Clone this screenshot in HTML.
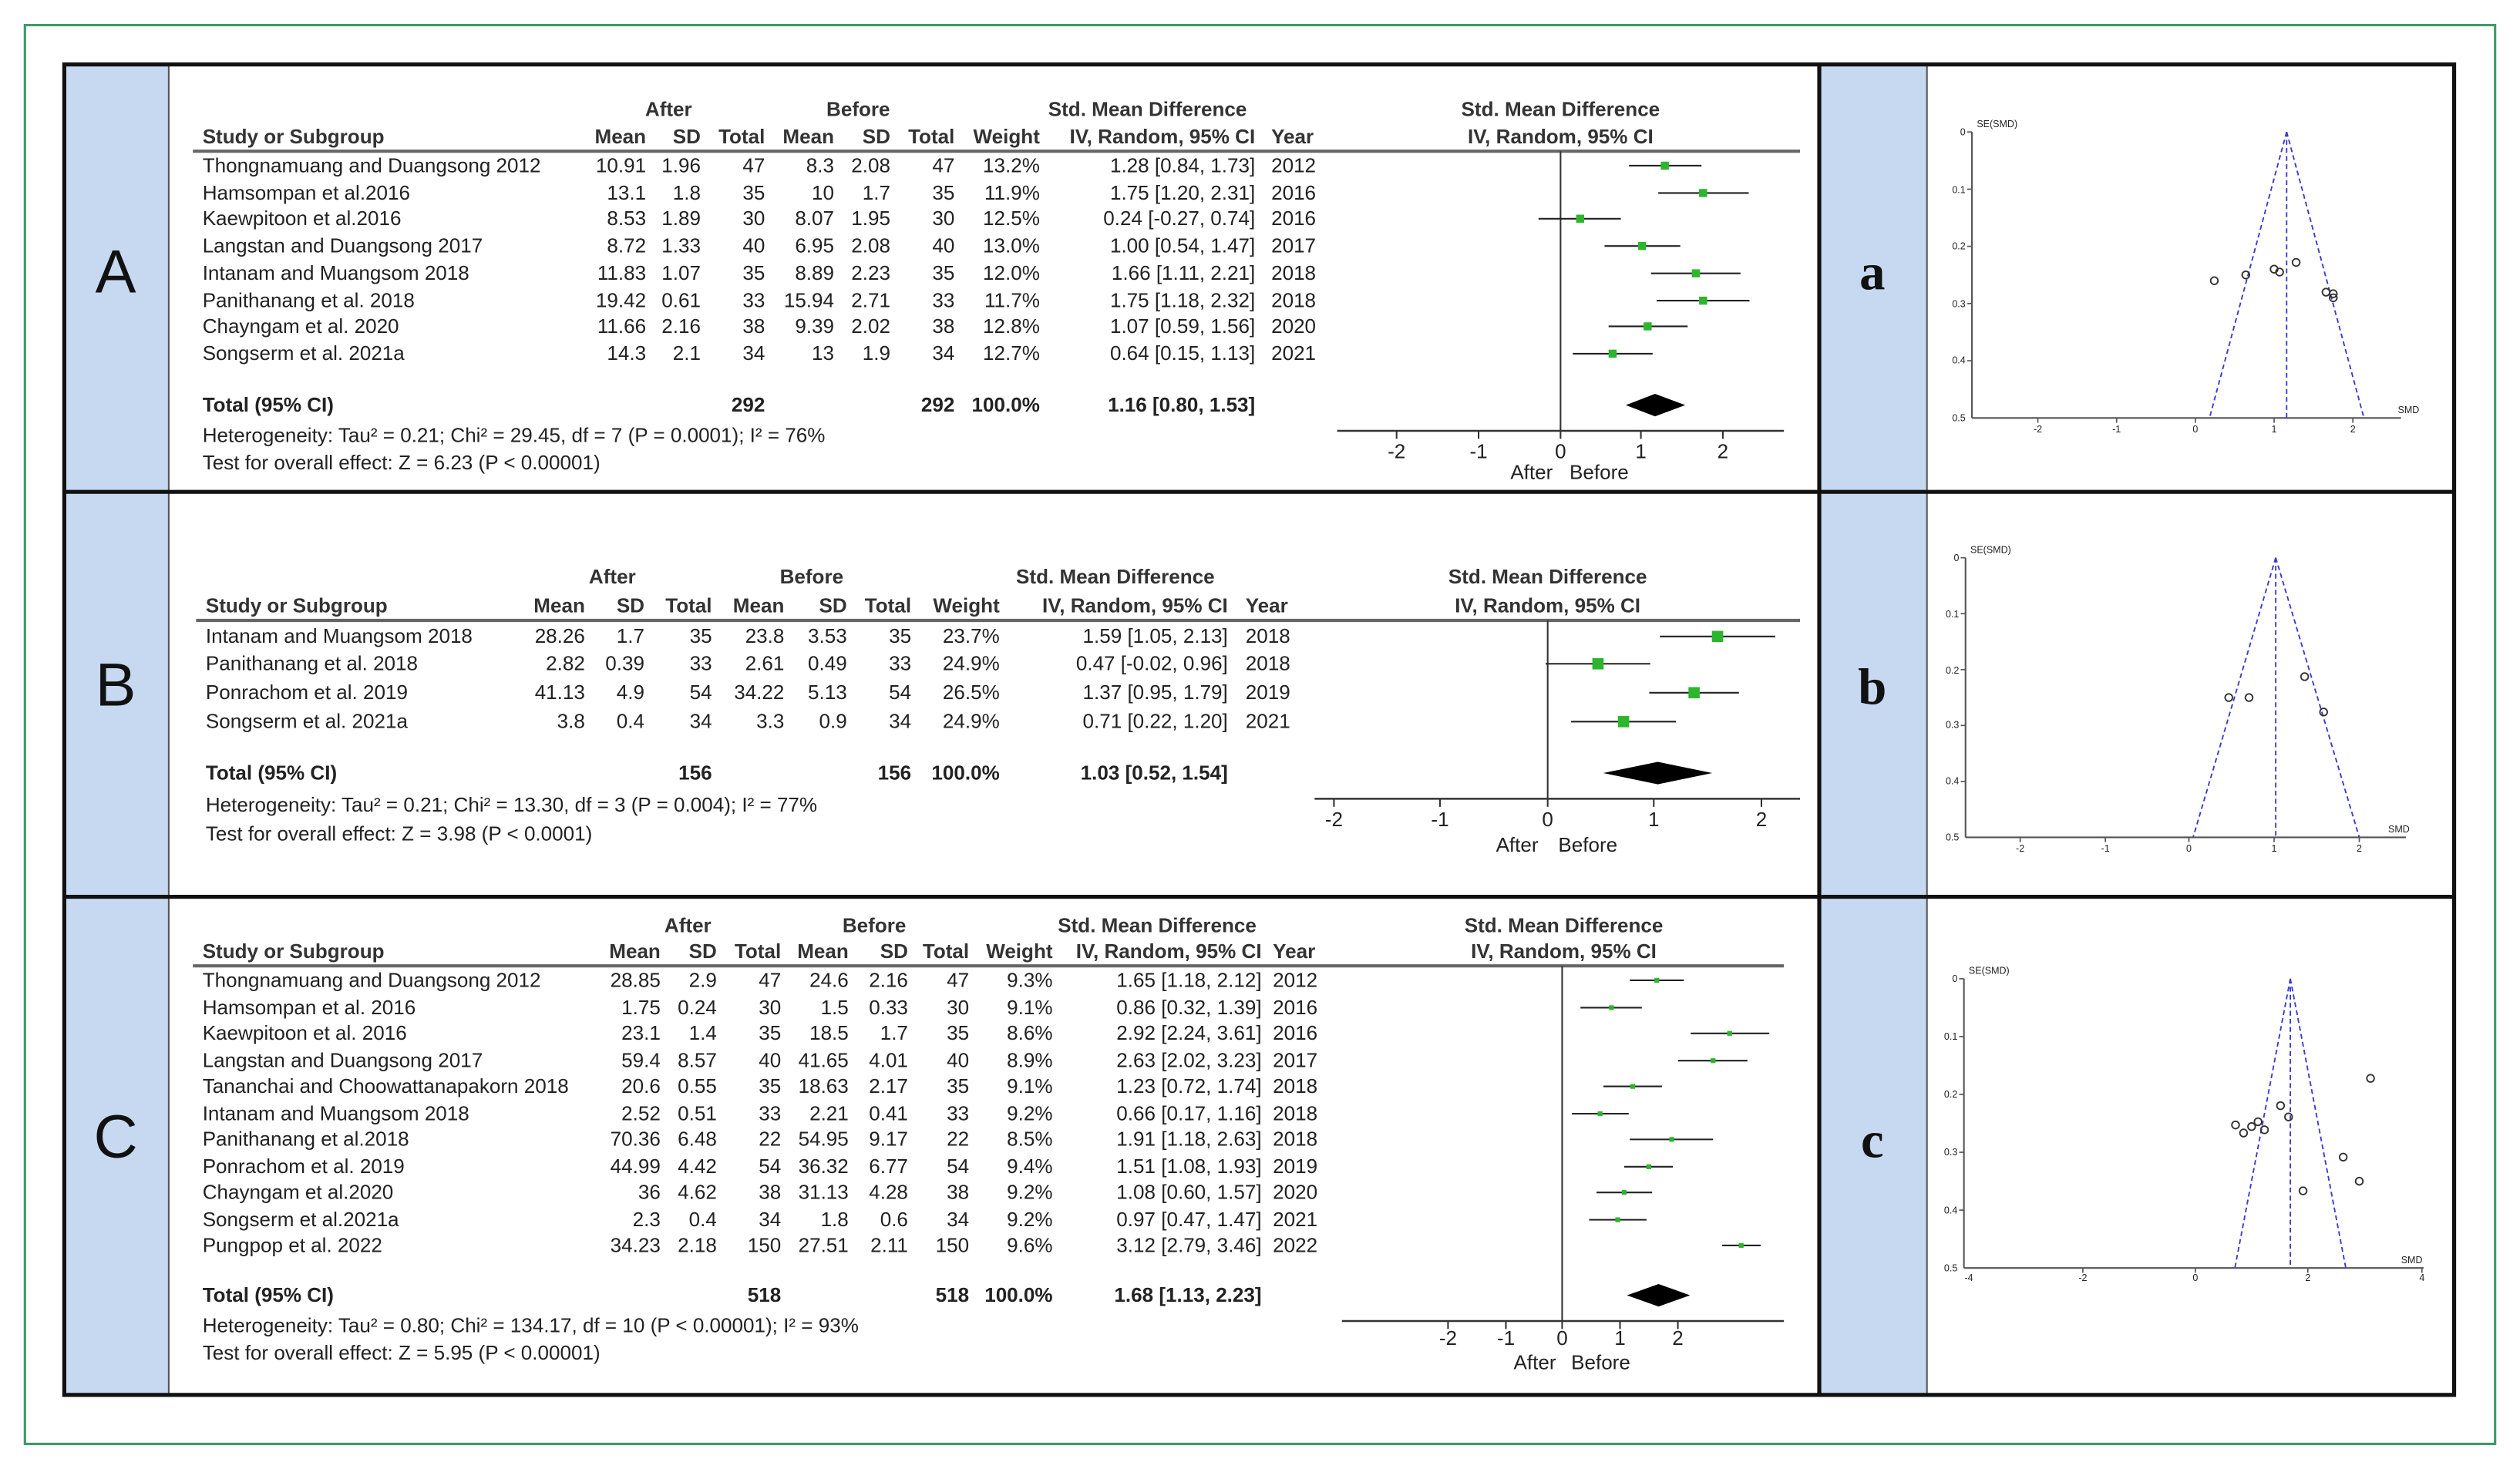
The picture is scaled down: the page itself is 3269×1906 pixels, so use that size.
<!DOCTYPE html>
<html><head><meta charset="utf-8"><style>
html,body{margin:0;padding:0;background:#fff}
svg{display:block}
text{font-family:"Liberation Sans",Arial,sans-serif;fill:#222}
.h{font-size:12.5px;font-weight:bold;fill:#333}
.t{font-size:12.5px}
.b{font-size:12.5px;font-weight:bold}
.r{text-anchor:end}
.m{text-anchor:middle}
.L{font-size:38px;text-anchor:middle;fill:#111}
.l{font-size:32px;font-weight:bold;font-family:"Liberation Serif",serif;text-anchor:middle;fill:#111}
.f{font-size:6px;fill:#333}
.ax{font-size:12.5px;text-anchor:middle}
</style></head><body>
<svg width="3269" height="1906" viewBox="0 0 1568 914" xmlns="http://www.w3.org/2000/svg">
<rect x="0" y="0" width="1568" height="914" fill="#fff"/>
<rect x="15.5" y="15.5" width="1537" height="883" fill="none" stroke="#3f9a6b" stroke-width="1.5"/>
<!-- blue columns -->
<rect x="40" y="40" width="65" height="828" fill="#c6d9f0"/>
<rect x="1132" y="40" width="67" height="828" fill="#c6d9f0"/>
<line x1="105" y1="40" x2="105" y2="868" stroke="#555" stroke-width="1"/>
<line x1="1199" y1="40" x2="1199" y2="868" stroke="#555" stroke-width="1"/>
<line x1="1132" y1="40" x2="1132" y2="868" stroke="#111" stroke-width="2.5"/>
<rect x="40" y="40" width="1487" height="828" fill="none" stroke="#111" stroke-width="2.5"/>
<line x1="40" y1="306" x2="1527" y2="306" stroke="#111" stroke-width="2.5"/>
<line x1="40" y1="558" x2="1527" y2="558" stroke="#111" stroke-width="2.5"/>
<text class="L" x="72" y="182">A</text>
<text class="L" x="72" y="439">B</text>
<text class="L" x="72" y="720">C</text>
<text class="l" x="1165" y="180">a</text>
<text class="l" x="1165" y="438">b</text>
<text class="l" x="1165" y="720">c</text>

<!-- ===== Panel A ===== -->
<g>
<text class="h m" x="416" y="72">After</text>
<text class="h m" x="534" y="72">Before</text>
<text class="h m" x="714" y="72">Std. Mean Difference</text>
<text class="h m" x="971" y="72">Std. Mean Difference</text>
<text class="h" x="126" y="89">Study or Subgroup</text>
<text class="h r" x="402" y="89">Mean</text><text class="h r" x="436" y="89">SD</text><text class="h r" x="476" y="89">Total</text>
<text class="h r" x="519" y="89">Mean</text><text class="h r" x="554" y="89">SD</text><text class="h r" x="594" y="89">Total</text>
<text class="h r" x="647" y="89">Weight</text><text class="h r" x="781" y="89">IV, Random, 95% CI</text><text class="h" x="791" y="89">Year</text>
<text class="h m" x="971" y="89">IV, Random, 95% CI</text>
<line x1="120" y1="94" x2="1120" y2="94" stroke="#666" stroke-width="2"/>
<g class="t">
<text x="126" y="107">Thongnamuang and Duangsong 2012</text><text class="r" x="402" y="107">10.91</text><text class="r" x="436" y="107">1.96</text><text class="r" x="476" y="107">47</text><text class="r" x="519" y="107">8.3</text><text class="r" x="554" y="107">2.08</text><text class="r" x="594" y="107">47</text><text class="r" x="647" y="107">13.2%</text><text class="r" x="781" y="107">1.28 [0.84, 1.73]</text><text x="791" y="107">2012</text>
<text x="126" y="124">Hamsompan et al.2016</text><text class="r" x="402" y="124">13.1</text><text class="r" x="436" y="124">1.8</text><text class="r" x="476" y="124">35</text><text class="r" x="519" y="124">10</text><text class="r" x="554" y="124">1.7</text><text class="r" x="594" y="124">35</text><text class="r" x="647" y="124">11.9%</text><text class="r" x="781" y="124">1.75 [1.20, 2.31]</text><text x="791" y="124">2016</text>
<text x="126" y="140">Kaewpitoon et al.2016</text><text class="r" x="402" y="140">8.53</text><text class="r" x="436" y="140">1.89</text><text class="r" x="476" y="140">30</text><text class="r" x="519" y="140">8.07</text><text class="r" x="554" y="140">1.95</text><text class="r" x="594" y="140">30</text><text class="r" x="647" y="140">12.5%</text><text class="r" x="781" y="140">0.24 [-0.27, 0.74]</text><text x="791" y="140">2016</text>
<text x="126" y="157">Langstan and Duangsong 2017</text><text class="r" x="402" y="157">8.72</text><text class="r" x="436" y="157">1.33</text><text class="r" x="476" y="157">40</text><text class="r" x="519" y="157">6.95</text><text class="r" x="554" y="157">2.08</text><text class="r" x="594" y="157">40</text><text class="r" x="647" y="157">13.0%</text><text class="r" x="781" y="157">1.00 [0.54, 1.47]</text><text x="791" y="157">2017</text>
<text x="126" y="174">Intanam and Muangsom 2018</text><text class="r" x="402" y="174">11.83</text><text class="r" x="436" y="174">1.07</text><text class="r" x="476" y="174">35</text><text class="r" x="519" y="174">8.89</text><text class="r" x="554" y="174">2.23</text><text class="r" x="594" y="174">35</text><text class="r" x="647" y="174">12.0%</text><text class="r" x="781" y="174">1.66 [1.11, 2.21]</text><text x="791" y="174">2018</text>
<text x="126" y="191">Panithanang et al. 2018</text><text class="r" x="402" y="191">19.42</text><text class="r" x="436" y="191">0.61</text><text class="r" x="476" y="191">33</text><text class="r" x="519" y="191">15.94</text><text class="r" x="554" y="191">2.71</text><text class="r" x="594" y="191">33</text><text class="r" x="647" y="191">11.7%</text><text class="r" x="781" y="191">1.75 [1.18, 2.32]</text><text x="791" y="191">2018</text>
<text x="126" y="207">Chayngam et al. 2020</text><text class="r" x="402" y="207">11.66</text><text class="r" x="436" y="207">2.16</text><text class="r" x="476" y="207">38</text><text class="r" x="519" y="207">9.39</text><text class="r" x="554" y="207">2.02</text><text class="r" x="594" y="207">38</text><text class="r" x="647" y="207">12.8%</text><text class="r" x="781" y="207">1.07 [0.59, 1.56]</text><text x="791" y="207">2020</text>
<text x="126" y="224">Songserm et al. 2021a</text><text class="r" x="402" y="224">14.3</text><text class="r" x="436" y="224">2.1</text><text class="r" x="476" y="224">34</text><text class="r" x="519" y="224">13</text><text class="r" x="554" y="224">1.9</text><text class="r" x="594" y="224">34</text><text class="r" x="647" y="224">12.7%</text><text class="r" x="781" y="224">0.64 [0.15, 1.13]</text><text x="791" y="224">2021</text>
<text x="126" y="275">Heterogeneity: Tau² = 0.21; Chi² = 29.45, df = 7 (P = 0.0001); I² = 76%</text>
<text x="126" y="292">Test for overall effect: Z = 6.23 (P &lt; 0.00001)</text>
</g>
<g class="b"><text x="126" y="256">Total (95% CI)</text><text class="r" x="476" y="256">292</text><text class="r" x="594" y="256">292</text><text class="r" x="647" y="256">100.0%</text><text class="r" x="781" y="256">1.16 [0.80, 1.53]</text></g>
<line x1="971" y1="94" x2="971" y2="268" stroke="#333" stroke-width="1"/>
<line x1="832" y1="268" x2="1110" y2="268" stroke="#333" stroke-width="1.2"/>
<g stroke="#333" stroke-width="1"><line x1="869" y1="268" x2="869" y2="273"/><line x1="920" y1="268" x2="920" y2="273"/><line x1="971" y1="268" x2="971" y2="273"/><line x1="1021" y1="268" x2="1021" y2="273"/><line x1="1072" y1="268" x2="1072" y2="273"/></g>
<text class="ax" x="869" y="285">-2</text><text class="ax" x="920" y="285">-1</text><text class="ax" x="971" y="285">0</text><text class="ax" x="1021" y="285">1</text><text class="ax" x="1072" y="285">2</text>
<text class="ax" x="953" y="298">After</text><text class="ax" x="995" y="298">Before</text>
<g stroke="#222" stroke-width="1">
<line x1="1013.6" y1="103" x2="1058.7" y2="103"/><line x1="1031.8" y1="120" x2="1088.1" y2="120"/><line x1="957.3" y1="136" x2="1008.5" y2="136"/><line x1="998.4" y1="153" x2="1045.5" y2="153"/><line x1="1027.3" y1="170" x2="1083" y2="170"/><line x1="1030.8" y1="187" x2="1088.6" y2="187"/><line x1="1000.9" y1="203" x2="1050.1" y2="203"/><line x1="978.6" y1="220" x2="1028.3" y2="220"/>
</g>
<g fill="#2db52d">
<rect x="1033.4" y="100.5" width="5" height="5"/><rect x="1057.2" y="117.5" width="5" height="5"/><rect x="980.7" y="133.5" width="5" height="5"/><rect x="1019.2" y="150.5" width="5" height="5"/><rect x="1052.7" y="167.5" width="5" height="5"/><rect x="1057.2" y="184.5" width="5" height="5"/><rect x="1022.7" y="200.5" width="5" height="5"/><rect x="1000.9" y="217.5" width="5" height="5"/>
</g>
<polygon points="1011.6,252 1029.8,245 1048.6,252 1029.8,259" fill="#000"/>
</g>

<!-- ===== Panel B ===== -->
<g>
<text class="h m" x="381" y="363">After</text>
<text class="h m" x="505" y="363">Before</text>
<text class="h m" x="694" y="363">Std. Mean Difference</text>
<text class="h m" x="963" y="363">Std. Mean Difference</text>
<text class="h" x="128" y="381">Study or Subgroup</text>
<text class="h r" x="364" y="381">Mean</text><text class="h r" x="401" y="381">SD</text><text class="h r" x="443" y="381">Total</text>
<text class="h r" x="488" y="381">Mean</text><text class="h r" x="527" y="381">SD</text><text class="h r" x="567" y="381">Total</text>
<text class="h r" x="622" y="381">Weight</text><text class="h r" x="764" y="381">IV, Random, 95% CI</text><text class="h" x="775" y="381">Year</text>
<text class="h m" x="963" y="381">IV, Random, 95% CI</text>
<line x1="122" y1="386" x2="1120" y2="386" stroke="#666" stroke-width="2"/>
<g class="t">
<text x="128" y="400">Intanam and Muangsom 2018</text><text class="r" x="364" y="400">28.26</text><text class="r" x="401" y="400">1.7</text><text class="r" x="443" y="400">35</text><text class="r" x="488" y="400">23.8</text><text class="r" x="527" y="400">3.53</text><text class="r" x="567" y="400">35</text><text class="r" x="622" y="400">23.7%</text><text class="r" x="764" y="400">1.59 [1.05, 2.13]</text><text x="775" y="400">2018</text>
<text x="128" y="417">Panithanang et al. 2018</text><text class="r" x="364" y="417">2.82</text><text class="r" x="401" y="417">0.39</text><text class="r" x="443" y="417">33</text><text class="r" x="488" y="417">2.61</text><text class="r" x="527" y="417">0.49</text><text class="r" x="567" y="417">33</text><text class="r" x="622" y="417">24.9%</text><text class="r" x="764" y="417">0.47 [-0.02, 0.96]</text><text x="775" y="417">2018</text>
<text x="128" y="435">Ponrachom et al. 2019</text><text class="r" x="364" y="435">41.13</text><text class="r" x="401" y="435">4.9</text><text class="r" x="443" y="435">54</text><text class="r" x="488" y="435">34.22</text><text class="r" x="527" y="435">5.13</text><text class="r" x="567" y="435">54</text><text class="r" x="622" y="435">26.5%</text><text class="r" x="764" y="435">1.37 [0.95, 1.79]</text><text x="775" y="435">2019</text>
<text x="128" y="453">Songserm et al. 2021a</text><text class="r" x="364" y="453">3.8</text><text class="r" x="401" y="453">0.4</text><text class="r" x="443" y="453">34</text><text class="r" x="488" y="453">3.3</text><text class="r" x="527" y="453">0.9</text><text class="r" x="567" y="453">34</text><text class="r" x="622" y="453">24.9%</text><text class="r" x="764" y="453">0.71 [0.22, 1.20]</text><text x="775" y="453">2021</text>
<text x="128" y="505">Heterogeneity: Tau² = 0.21; Chi² = 13.30, df = 3 (P = 0.004); I² = 77%</text>
<text x="128" y="523">Test for overall effect: Z = 3.98 (P &lt; 0.0001)</text>
</g>
<g class="b"><text x="128" y="485">Total (95% CI)</text><text class="r" x="443" y="485">156</text><text class="r" x="567" y="485">156</text><text class="r" x="622" y="485">100.0%</text><text class="r" x="764" y="485">1.03 [0.52, 1.54]</text></g>
<line x1="963" y1="386" x2="963" y2="497" stroke="#333" stroke-width="1"/>
<line x1="818" y1="497" x2="1120" y2="497" stroke="#333" stroke-width="1.2"/>
<g stroke="#333" stroke-width="1"><line x1="830" y1="497" x2="830" y2="502"/><line x1="896" y1="497" x2="896" y2="502"/><line x1="963" y1="497" x2="963" y2="502"/><line x1="1029" y1="497" x2="1029" y2="502"/><line x1="1096" y1="497" x2="1096" y2="502"/></g>
<text class="ax" x="830" y="514">-2</text><text class="ax" x="896" y="514">-1</text><text class="ax" x="963" y="514">0</text><text class="ax" x="1029" y="514">1</text><text class="ax" x="1096" y="514">2</text>
<text class="ax" x="944" y="530">After</text><text class="ax" x="988" y="530">Before</text>
<g stroke="#222" stroke-width="1">
<line x1="1032.8" y1="396" x2="1104.6" y2="396"/><line x1="961.7" y1="413" x2="1026.8" y2="413"/><line x1="1026.2" y1="431" x2="1082" y2="431"/><line x1="977.6" y1="449" x2="1042.8" y2="449"/>
</g>
<g fill="#2db52d">
<rect x="1065.2" y="392.5" width="7" height="7"/><rect x="990.8" y="409.5" width="7" height="7"/><rect x="1050.6" y="427.5" width="7" height="7"/><rect x="1006.7" y="445.5" width="7" height="7"/>
</g>
<polygon points="997.6,481 1031.5,474 1065.4,481 1031.5,488" fill="#000"/>
</g>

<!-- ===== Panel C ===== -->
<g>
<text class="h m" x="428" y="580">After</text>
<text class="h m" x="544" y="580">Before</text>
<text class="h m" x="720" y="580">Std. Mean Difference</text>
<text class="h m" x="973" y="580">Std. Mean Difference</text>
<text class="h" x="126" y="596">Study or Subgroup</text>
<text class="h r" x="411" y="596">Mean</text><text class="h r" x="446" y="596">SD</text><text class="h r" x="486" y="596">Total</text>
<text class="h r" x="528" y="596">Mean</text><text class="h r" x="565" y="596">SD</text><text class="h r" x="603" y="596">Total</text>
<text class="h r" x="655" y="596">Weight</text><text class="h r" x="785" y="596">IV, Random, 95% CI</text><text class="h" x="792" y="596">Year</text>
<text class="h m" x="973" y="596">IV, Random, 95% CI</text>
<line x1="120" y1="601" x2="1110" y2="601" stroke="#666" stroke-width="2"/>
<g class="t">
<text x="126" y="614">Thongnamuang and Duangsong 2012</text><text class="r" x="411" y="614">28.85</text><text class="r" x="446" y="614">2.9</text><text class="r" x="486" y="614">47</text><text class="r" x="528" y="614">24.6</text><text class="r" x="565" y="614">2.16</text><text class="r" x="603" y="614">47</text><text class="r" x="655" y="614">9.3%</text><text class="r" x="785" y="614">1.65 [1.18, 2.12]</text><text x="792" y="614">2012</text>
<text x="126" y="631">Hamsompan et al. 2016</text><text class="r" x="411" y="631">1.75</text><text class="r" x="446" y="631">0.24</text><text class="r" x="486" y="631">30</text><text class="r" x="528" y="631">1.5</text><text class="r" x="565" y="631">0.33</text><text class="r" x="603" y="631">30</text><text class="r" x="655" y="631">9.1%</text><text class="r" x="785" y="631">0.86 [0.32, 1.39]</text><text x="792" y="631">2016</text>
<text x="126" y="647">Kaewpitoon et al. 2016</text><text class="r" x="411" y="647">23.1</text><text class="r" x="446" y="647">1.4</text><text class="r" x="486" y="647">35</text><text class="r" x="528" y="647">18.5</text><text class="r" x="565" y="647">1.7</text><text class="r" x="603" y="647">35</text><text class="r" x="655" y="647">8.6%</text><text class="r" x="785" y="647">2.92 [2.24, 3.61]</text><text x="792" y="647">2016</text>
<text x="126" y="664">Langstan and Duangsong 2017</text><text class="r" x="411" y="664">59.4</text><text class="r" x="446" y="664">8.57</text><text class="r" x="486" y="664">40</text><text class="r" x="528" y="664">41.65</text><text class="r" x="565" y="664">4.01</text><text class="r" x="603" y="664">40</text><text class="r" x="655" y="664">8.9%</text><text class="r" x="785" y="664">2.63 [2.02, 3.23]</text><text x="792" y="664">2017</text>
<text x="126" y="680">Tananchai and Choowattanapakorn 2018</text><text class="r" x="411" y="680">20.6</text><text class="r" x="446" y="680">0.55</text><text class="r" x="486" y="680">35</text><text class="r" x="528" y="680">18.63</text><text class="r" x="565" y="680">2.17</text><text class="r" x="603" y="680">35</text><text class="r" x="655" y="680">9.1%</text><text class="r" x="785" y="680">1.23 [0.72, 1.74]</text><text x="792" y="680">2018</text>
<text x="126" y="697">Intanam and Muangsom 2018</text><text class="r" x="411" y="697">2.52</text><text class="r" x="446" y="697">0.51</text><text class="r" x="486" y="697">33</text><text class="r" x="528" y="697">2.21</text><text class="r" x="565" y="697">0.41</text><text class="r" x="603" y="697">33</text><text class="r" x="655" y="697">9.2%</text><text class="r" x="785" y="697">0.66 [0.17, 1.16]</text><text x="792" y="697">2018</text>
<text x="126" y="713">Panithanang et al.2018</text><text class="r" x="411" y="713">70.36</text><text class="r" x="446" y="713">6.48</text><text class="r" x="486" y="713">22</text><text class="r" x="528" y="713">54.95</text><text class="r" x="565" y="713">9.17</text><text class="r" x="603" y="713">22</text><text class="r" x="655" y="713">8.5%</text><text class="r" x="785" y="713">1.91 [1.18, 2.63]</text><text x="792" y="713">2018</text>
<text x="126" y="730">Ponrachom et al. 2019</text><text class="r" x="411" y="730">44.99</text><text class="r" x="446" y="730">4.42</text><text class="r" x="486" y="730">54</text><text class="r" x="528" y="730">36.32</text><text class="r" x="565" y="730">6.77</text><text class="r" x="603" y="730">54</text><text class="r" x="655" y="730">9.4%</text><text class="r" x="785" y="730">1.51 [1.08, 1.93]</text><text x="792" y="730">2019</text>
<text x="126" y="746">Chayngam et al.2020</text><text class="r" x="411" y="746">36</text><text class="r" x="446" y="746">4.62</text><text class="r" x="486" y="746">38</text><text class="r" x="528" y="746">31.13</text><text class="r" x="565" y="746">4.28</text><text class="r" x="603" y="746">38</text><text class="r" x="655" y="746">9.2%</text><text class="r" x="785" y="746">1.08 [0.60, 1.57]</text><text x="792" y="746">2020</text>
<text x="126" y="763">Songserm et al.2021a</text><text class="r" x="411" y="763">2.3</text><text class="r" x="446" y="763">0.4</text><text class="r" x="486" y="763">34</text><text class="r" x="528" y="763">1.8</text><text class="r" x="565" y="763">0.6</text><text class="r" x="603" y="763">34</text><text class="r" x="655" y="763">9.2%</text><text class="r" x="785" y="763">0.97 [0.47, 1.47]</text><text x="792" y="763">2021</text>
<text x="126" y="779">Pungpop et al. 2022</text><text class="r" x="411" y="779">34.23</text><text class="r" x="446" y="779">2.18</text><text class="r" x="486" y="779">150</text><text class="r" x="528" y="779">27.51</text><text class="r" x="565" y="779">2.11</text><text class="r" x="603" y="779">150</text><text class="r" x="655" y="779">9.6%</text><text class="r" x="785" y="779">3.12 [2.79, 3.46]</text><text x="792" y="779">2022</text>
<text x="126" y="829">Heterogeneity: Tau² = 0.80; Chi² = 134.17, df = 10 (P &lt; 0.00001); I² = 93%</text>
<text x="126" y="846">Test for overall effect: Z = 5.95 (P &lt; 0.00001)</text>
</g>
<g class="b"><text x="126" y="810">Total (95% CI)</text><text class="r" x="486" y="810">518</text><text class="r" x="603" y="810">518</text><text class="r" x="655" y="810">100.0%</text><text class="r" x="785" y="810">1.68 [1.13, 2.23]</text></g>
<line x1="972" y1="601" x2="972" y2="822" stroke="#333" stroke-width="1"/>
<line x1="835" y1="822" x2="1110" y2="822" stroke="#333" stroke-width="1.2"/>
<g stroke="#333" stroke-width="1"><line x1="901" y1="822" x2="901" y2="827"/><line x1="937" y1="822" x2="937" y2="827"/><line x1="972" y1="822" x2="972" y2="827"/><line x1="1008" y1="822" x2="1008" y2="827"/><line x1="1044" y1="822" x2="1044" y2="827"/></g>
<text class="ax" x="901" y="837">-2</text><text class="ax" x="937" y="837">-1</text><text class="ax" x="972" y="837">0</text><text class="ax" x="1008" y="837">1</text><text class="ax" x="1044" y="837">2</text>
<text class="ax" x="955" y="852">After</text><text class="ax" x="996" y="852">Before</text>
<g stroke="#222" stroke-width="1">
<line x1="1014.1" y1="610" x2="1047.7" y2="610"/><line x1="983.4" y1="627" x2="1021.6" y2="627"/><line x1="1052" y1="643" x2="1100.9" y2="643"/><line x1="1044.1" y1="660" x2="1087.3" y2="660"/><line x1="997.7" y1="676" x2="1034.1" y2="676"/><line x1="978.1" y1="693" x2="1013.4" y2="693"/><line x1="1014.1" y1="709" x2="1065.9" y2="709"/><line x1="1010.6" y1="726" x2="1040.9" y2="726"/><line x1="993.4" y1="742" x2="1028" y2="742"/><line x1="988.8" y1="759" x2="1024.5" y2="759"/><line x1="1071.6" y1="775" x2="1095.5" y2="775"/>
</g>
<g fill="#2db52d">
<rect x="1029.4" y="608.5" width="3" height="3"/><rect x="1001.2" y="625.5" width="3" height="3"/><rect x="1074.7" y="641.5" width="3" height="3"/><rect x="1064.4" y="658.5" width="3" height="3"/><rect x="1014.4" y="674.5" width="3" height="3"/><rect x="994.1" y="691.5" width="3" height="3"/><rect x="1038.7" y="707.5" width="3" height="3"/><rect x="1024.4" y="724.5" width="3" height="3"/><rect x="1009.1" y="740.5" width="3" height="3"/><rect x="1005.1" y="757.5" width="3" height="3"/><rect x="1081.9" y="773.5" width="3" height="3"/>
</g>
<polygon points="1012.3,806 1032,799 1051.6,806 1032,813" fill="#000"/>
</g>

<!-- ===== Funnel a ===== -->
<g>
<line x1="1227" y1="82" x2="1227" y2="260" stroke="#555" stroke-width="1"/>
<line x1="1227" y1="260" x2="1494" y2="260" stroke="#555" stroke-width="1"/>
<g stroke="#555" stroke-width="0.8"><line x1="1224" y1="82" x2="1227" y2="82"/><line x1="1224" y1="117.6" x2="1227" y2="117.6"/><line x1="1224" y1="153.2" x2="1227" y2="153.2"/><line x1="1224" y1="188.8" x2="1227" y2="188.8"/><line x1="1224" y1="224.4" x2="1227" y2="224.4"/>
<line x1="1268" y1="260" x2="1268" y2="263"/><line x1="1317" y1="260" x2="1317" y2="263"/><line x1="1366" y1="260" x2="1366" y2="263"/><line x1="1415" y1="260" x2="1415" y2="263"/><line x1="1464" y1="260" x2="1464" y2="263"/></g>
<g class="f"><text class="r" x="1223" y="84">0</text><text class="r" x="1223" y="120">0.1</text><text class="r" x="1223" y="155">0.2</text><text class="r" x="1223" y="191">0.3</text><text class="r" x="1223" y="226">0.4</text><text class="r" x="1223" y="262">0.5</text>
<text x="1230" y="79">SE(SMD)</text><text x="1492" y="257">SMD</text>
<text class="m" x="1268" y="269">-2</text><text class="m" x="1317" y="269">-1</text><text class="m" x="1366" y="269">0</text><text class="m" x="1415" y="269">1</text><text class="m" x="1464" y="269">2</text></g>
<g stroke="#3b3bd0" stroke-width="0.9" stroke-dasharray="3,2" fill="none"><line x1="1422.8" y1="82" x2="1422.8" y2="260"/><line x1="1422.8" y1="82" x2="1374.8" y2="260"/><line x1="1422.8" y1="82" x2="1470.9" y2="260"/></g>
<g stroke="#333" stroke-width="0.9" fill="none"><circle cx="1377.8" cy="174.6" r="2.3"/><circle cx="1397.4" cy="171" r="2.3"/><circle cx="1415" cy="167.4" r="2.3"/><circle cx="1418.4" cy="169.2" r="2.3"/><circle cx="1428.7" cy="163.2" r="2.3"/><circle cx="1447.3" cy="181.7" r="2.3"/><circle cx="1451.8" cy="182.7" r="2.3"/><circle cx="1451.8" cy="185.2" r="2.3"/></g>
</g>

<!-- ===== Funnel b ===== -->
<g>
<line x1="1223" y1="347" x2="1223" y2="521" stroke="#555" stroke-width="1"/>
<line x1="1223" y1="521" x2="1497" y2="521" stroke="#555" stroke-width="1"/>
<g stroke="#555" stroke-width="0.8"><line x1="1220" y1="347" x2="1223" y2="347"/><line x1="1220" y1="381.8" x2="1223" y2="381.8"/><line x1="1220" y1="416.6" x2="1223" y2="416.6"/><line x1="1220" y1="451.4" x2="1223" y2="451.4"/><line x1="1220" y1="486.2" x2="1223" y2="486.2"/>
<line x1="1257" y1="521" x2="1257" y2="524"/><line x1="1310" y1="521" x2="1310" y2="524"/><line x1="1362" y1="521" x2="1362" y2="524"/><line x1="1415" y1="521" x2="1415" y2="524"/><line x1="1468" y1="521" x2="1468" y2="524"/></g>
<g class="f"><text class="r" x="1219" y="349">0</text><text class="r" x="1219" y="384">0.1</text><text class="r" x="1219" y="419">0.2</text><text class="r" x="1219" y="453">0.3</text><text class="r" x="1219" y="488">0.4</text><text class="r" x="1219" y="523">0.5</text>
<text x="1226" y="344">SE(SMD)</text><text x="1486" y="518">SMD</text>
<text class="m" x="1257" y="530">-2</text><text class="m" x="1310" y="530">-1</text><text class="m" x="1362" y="530">0</text><text class="m" x="1415" y="530">1</text><text class="m" x="1468" y="530">2</text></g>
<g stroke="#3b3bd0" stroke-width="0.9" stroke-dasharray="3,2" fill="none"><line x1="1416" y1="347" x2="1416" y2="521"/><line x1="1416" y1="347" x2="1364.6" y2="521"/><line x1="1416" y1="347" x2="1468" y2="521"/></g>
<g stroke="#333" stroke-width="0.9" fill="none"><circle cx="1386.8" cy="434" r="2.3"/><circle cx="1399.4" cy="434" r="2.3"/><circle cx="1434" cy="421" r="2.3"/><circle cx="1445.8" cy="443" r="2.3"/></g>
</g>

<!-- ===== Funnel c ===== -->
<g>
<line x1="1222" y1="609" x2="1222" y2="789" stroke="#555" stroke-width="1"/>
<line x1="1222" y1="789" x2="1508" y2="789" stroke="#555" stroke-width="1"/>
<g stroke="#555" stroke-width="0.8"><line x1="1219" y1="609" x2="1222" y2="609"/><line x1="1219" y1="645" x2="1222" y2="645"/><line x1="1219" y1="681" x2="1222" y2="681"/><line x1="1219" y1="717" x2="1222" y2="717"/><line x1="1219" y1="753" x2="1222" y2="753"/>
<line x1="1296" y1="789" x2="1296" y2="792"/><line x1="1366" y1="789" x2="1366" y2="792"/><line x1="1436" y1="789" x2="1436" y2="792"/><line x1="1507" y1="789" x2="1507" y2="792"/></g>
<g class="f"><text class="r" x="1218" y="611">0</text><text class="r" x="1218" y="647">0.1</text><text class="r" x="1218" y="683">0.2</text><text class="r" x="1218" y="719">0.3</text><text class="r" x="1218" y="755">0.4</text><text class="r" x="1218" y="791">0.5</text>
<text x="1225" y="606">SE(SMD)</text><text x="1494" y="786">SMD</text>
<text class="m" x="1225" y="797">-4</text><text class="m" x="1296" y="797">-2</text><text class="m" x="1366" y="797">0</text><text class="m" x="1436" y="797">2</text><text class="m" x="1507" y="797">4</text></g>
<g stroke="#3b3bd0" stroke-width="0.9" stroke-dasharray="3,2" fill="none"><line x1="1425.1" y1="609" x2="1425.1" y2="789"/><line x1="1425.1" y1="609" x2="1390.6" y2="789"/><line x1="1425.1" y1="609" x2="1459.6" y2="789"/></g>
<g stroke="#333" stroke-width="0.9" fill="none"><circle cx="1391" cy="700" r="2.3"/><circle cx="1396" cy="705" r="2.3"/><circle cx="1401" cy="701" r="2.3"/><circle cx="1405" cy="698" r="2.3"/><circle cx="1409" cy="703" r="2.3"/><circle cx="1419" cy="688" r="2.3"/><circle cx="1424" cy="695" r="2.3"/><circle cx="1433" cy="741" r="2.3"/><circle cx="1458" cy="720" r="2.3"/><circle cx="1468" cy="735" r="2.3"/><circle cx="1475" cy="671" r="2.3"/></g>
</g>
</svg>
</body></html>
